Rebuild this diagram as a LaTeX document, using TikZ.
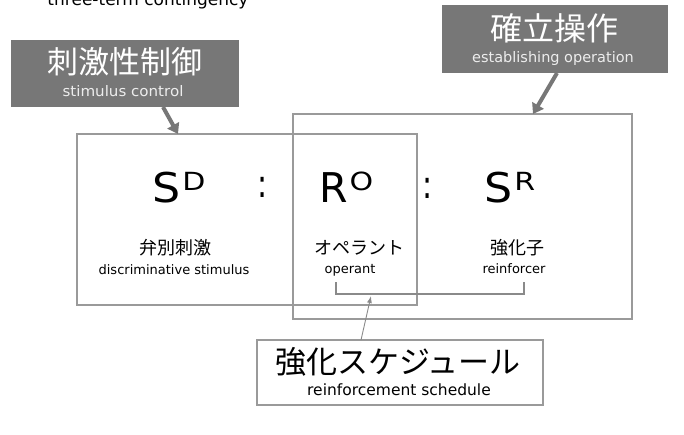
\documentclass[tikz,border=0pt]{standalone}
\usepackage{fontspec}
\setmainfont{DejaVu Sans}
\newfontfamily\jp{Noto Sans CJK JP}
\usetikzlibrary{arrows.meta}
\definecolor{boxgray}{HTML}{777777}
\definecolor{linegray}{HTML}{9A9A9A}
\definecolor{brgray}{HTML}{8A8A8A}
\tikzset{
  graybox/.style={fill=boxgray, draw=none, inner sep=0},
  framebox/.style={draw=linegray, line width=1.2pt, inner sep=0},
  txt/.style={inner sep=0, anchor=base},
  bigarrow/.style={draw=boxgray, line width=4pt, -{Triangle[width=13pt,length=10pt]}},
  thinarrow/.style={draw=brgray, line width=0.9pt, -{Latex[width=5pt,length=7pt]}},
  bracket/.style={draw=brgray, line width=1.3pt},
  jpbig/.style={font=\jp\fontsize{31}{31}\selectfont},
  jpmid/.style={font=\jp\fontsize{18}{18}\selectfont},
  ensmall/.style={font=\fontsize{13}{13}\selectfont},
  symb/.style={font=\fontsize{41}{41}\selectfont, inner sep=0, anchor=base west},
  colon/.style={inner sep=0, anchor=base, font=\fontsize{30}{30}\selectfont},
}
\newcommand{\supr}[1]{\hspace{2pt}\raisebox{11.6pt}{\fontsize{25}{25}\selectfont\scalebox{1.2}[1]{#1}}}
\newcommand{\mainl}[1]{\scalebox{1.08}[1]{#1}}
\begin{document}
\begin{tikzpicture}[x=1pt,y=-1pt]
\useasboundingbox (0,0) rectangle (684,434);
% cut title
\node[txt, font=\fontsize{17}{17}\selectfont] (title) at (148,5) {three-term contingency};
% frames
\node[framebox, minimum width=340pt, minimum height=171pt] (lb) at (247,219.5) {};
\node[framebox, minimum width=339pt, minimum height=205pt] (rb) at (462.5,216.5) {};
% gray label boxes
\node[graybox, minimum width=228pt, minimum height=67pt] (sc) at (125,73.5) {};
\node[txt, jpbig, text=white] (scj) at (125,73) {刺激性制御};
\node[txt, font=\fontsize{14.5}{14.5}\selectfont, text=white!93!black] (sce) at (123,96) {\scalebox{1.04}[1]{stimulus control}};
\node[graybox, minimum width=226pt, minimum height=68pt] (eo) at (555,39) {};
\node[txt, font=\jp\fontsize{32}{32}\selectfont, text=white] (eoj) at (554,40) {確立操作};
\node[txt, font=\fontsize{14.5}{14.5}\selectfont, text=white!93!black] (eoe) at (553,62) {establishing operation};
% symbols
\node[symb] (sd) at (152,202) {\mainl{S}\supr{D}};
\node[symb] (ro) at (319,202) {R\supr{O}};
\node[symb] (sr) at (484,202) {\mainl{S}\supr{R}};
\node[colon] (c1) at (263,197) {\scalebox{1}[1.3]{:}};
\node[colon] (c2) at (428,198) {\scalebox{1}[1.3]{:}};
% labels
\node[txt, jpmid] (dsj) at (175,254) {弁別刺激};
\node[txt, ensmall] (dse) at (174,274) {discriminative stimulus};
\node[txt, jpmid] (opj) at (359,254) {オペラント};
\node[txt, ensmall] (ope) at (350,273) {operant};
\node[txt, jpmid] (rfj) at (517,254) {強化子};
\node[txt, ensmall] (rfe) at (514,273) {reinforcer};
% bracket
\coordinate (bl) at (336,282);
\coordinate (br) at (524,282);
\draw[bracket] (bl) -- ++(0,12) -| (br);
% schedule box
\node[framebox, minimum width=286pt, minimum height=65pt] (rs) at (400,372.5) {};
\node[txt, jpbig] (rsj) at (398,373) {強化スケジュール};
\node[txt, font=\fontsize{15.5}{15.5}\selectfont] (rse) at (399,395) {reinforcement schedule};
% arrows
\coordinate (a1s) at (163,107);
\coordinate (a1e) at (178,134);
\draw[bigarrow] (a1s) -- (a1e);
\coordinate (a2s) at (557,73);
\coordinate (a2e) at (533,114);
\draw[bigarrow] (a2s) -- (a2e);
\coordinate (a3s) at (361,340);
\coordinate (a3e) at (371,296);
\draw[thinarrow] (a3s) -- (a3e);
\end{tikzpicture}
\end{document}
